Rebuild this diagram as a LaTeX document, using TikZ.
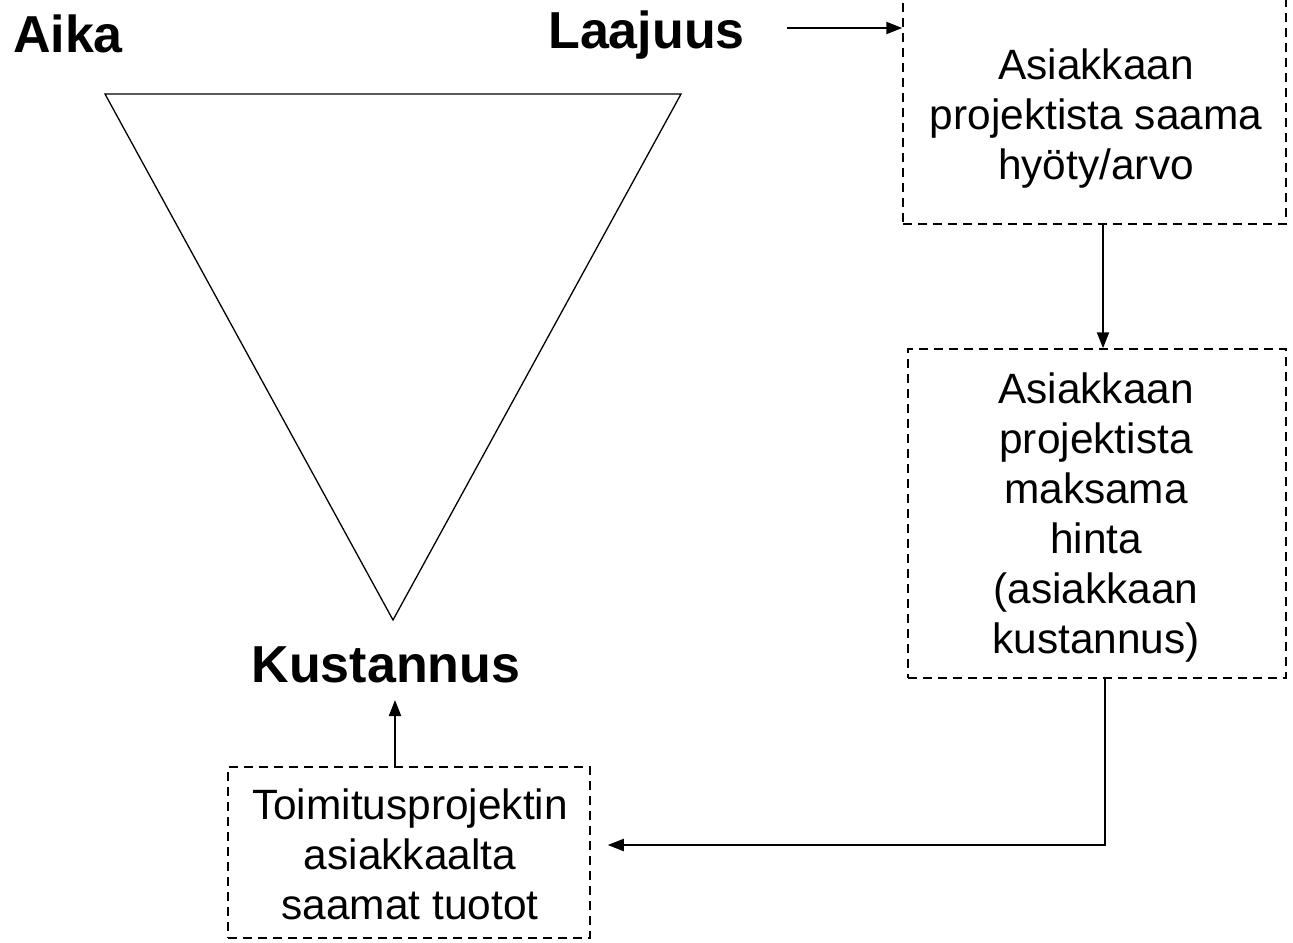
\documentclass[tikz,border=0pt]{standalone}
\usepackage{fontspec}
\setmainfont{Liberation Sans}
\usetikzlibrary{arrows.meta}
\begin{document}
\begin{tikzpicture}[x=0.5pt,y=-0.5pt,
  boxline/.style={draw, line width=0.75pt, dash pattern=on 4.5pt off 3pt, inner sep=0pt},
  boxtxt/.style={font=\fontsize{21.2}{25}\selectfont, align=center, inner sep=0pt, anchor=north},
  bigtxt/.style={font=\fontsize{26}{30}\selectfont\bfseries, inner sep=0pt, anchor=base},
  arr/.style={line width=1pt, -{Triangle[length=8pt,width=6pt]}}]
\useasboundingbox (0,0) rectangle (1293,942);
\clip (0,0) rectangle (1293,942);
% triangle
\draw[line width=0.65pt, line join=miter] (105,94) coordinate (t1) -- (681,94) coordinate (t2) -- (393,620) coordinate (t3) -- cycle;
% labels
\node[bigtxt] (aika) at (68,52) {Aika};
\node[bigtxt] (laajuus) at (646.5,48) {Laajuus};
\node[bigtxt] (kust) at (386,682) {Kustannus};
% boxes
\node[boxline, minimum width=191.5pt, minimum height=115pt] (b1) at (1094.5,109) {};
\node[boxline, minimum width=189pt, minimum height=164.5pt] (b2) at (1097,513.5) {};
\node[boxline, minimum width=181pt, minimum height=85.5pt] (b3) at (409,852.5) {};
\node[boxtxt] (b1t) at (1096,48) {Asiakkaan\\projektista saama\\hyöty/arvo};
\node[boxtxt] (b2t) at (1096,372) {Asiakkaan\\projektista\\maksama\\hinta\\(asiakkaan\\kustannus)};
\node[boxtxt] (b3t) at (410,788) {Toimitusprojektin\\asiakkaalta\\saamat tuotot};
% connectors
\coordinate (la) at (787,28);
\draw[arr] (la) -- (la -| b1.west);
\coordinate (a) at (1103,300);
\draw[arr] (b1.south -| a) -- (b2.north -| a);
\coordinate (c) at (1105,845);
\draw[arr, shorten >=8.5pt] (b2.south -| c) -- (c) -- (b3.east |- c);
\coordinate (kt) at (395,700);
\draw[arr] (b3.north -| kt) -- (kt);
\end{tikzpicture}
\end{document}
